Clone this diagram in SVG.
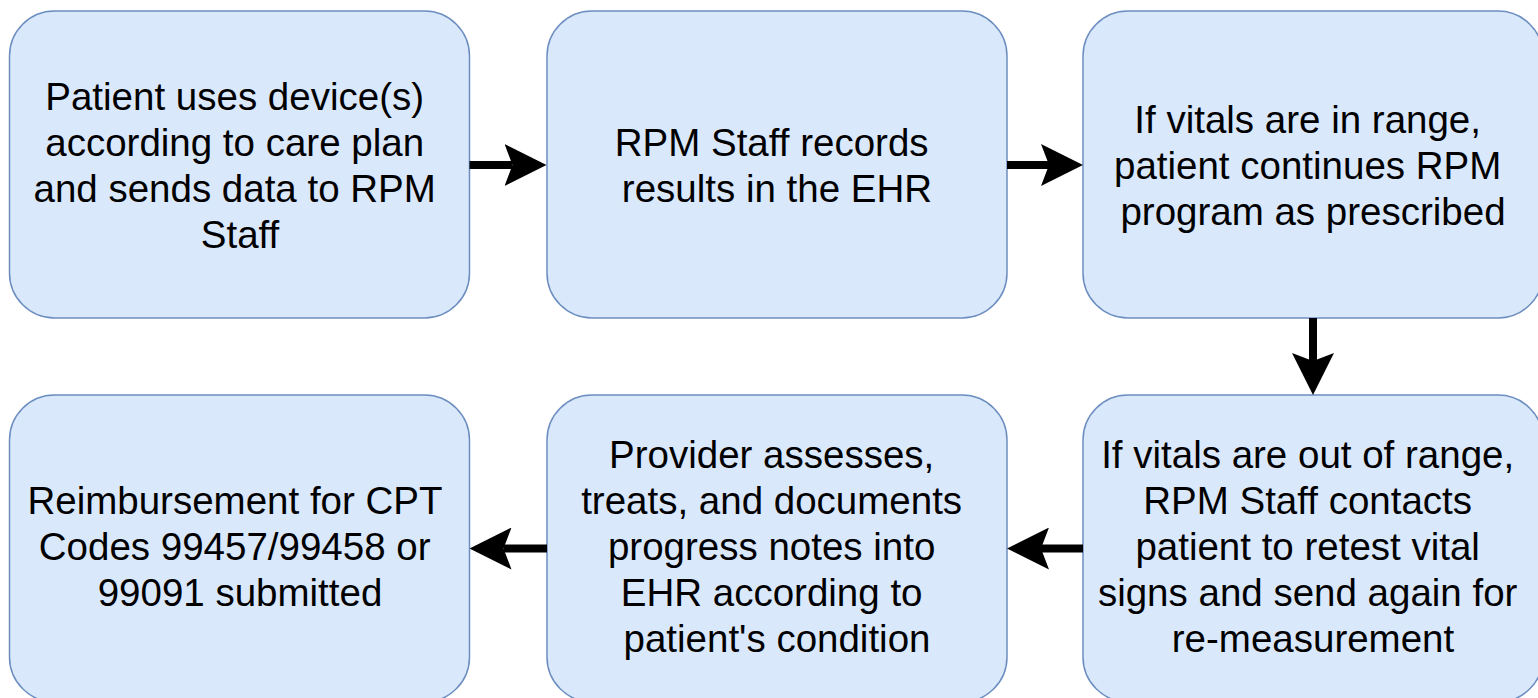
<svg xmlns="http://www.w3.org/2000/svg" width="1538" height="698" viewBox="0 0 1538 698">
  <style>
    .box { fill: #dae8fc; stroke: #6c8ebf; stroke-width: 1.5; }
    .lbl { font-family: "Liberation Sans", Arial, Helvetica, sans-serif; font-size: 38.5px; fill: #000000; text-anchor: middle; }
    .edge { stroke: #000000; stroke-width: 8; fill: none; marker-end: url(#arrow); }
  </style>
  <defs>
    <marker id="arrow" markerUnits="userSpaceOnUse" markerWidth="42" markerHeight="42" refX="8" refY="21" orient="auto" viewBox="0 0 42 42">
      <path d="M0,0 L42,21 L0,42 L8,21 Z" fill="#000000"/>
    </marker>
  </defs>
  <rect width="1538" height="698" fill="#ffffff"/>

  <g id="node-patient-uses">
    <rect class="box" x="9.5" y="11" width="460" height="307" rx="45" ry="45"/>
    <text class="lbl">
      <tspan x="240" y="110">Patient uses device(s)</tspan>
      <tspan x="240" y="156">according to care plan</tspan>
      <tspan x="240" y="202">and sends data to RPM</tspan>
      <tspan x="240" y="248">Staff</tspan>
    </text>
  </g>

  <g id="node-staff-records">
    <rect class="box" x="547" y="11" width="460" height="307" rx="45" ry="45"/>
    <text class="lbl">
      <tspan x="777" y="156">RPM Staff records</tspan>
      <tspan x="777" y="202">results in the EHR</tspan>
    </text>
  </g>

  <g id="node-in-range">
    <rect class="box" x="1083" y="11" width="460" height="307" rx="45" ry="45"/>
    <text class="lbl">
      <tspan x="1313" y="133">If vitals are in range,</tspan>
      <tspan x="1313" y="179">patient continues RPM</tspan>
      <tspan x="1313" y="225">program as prescribed</tspan>
    </text>
  </g>

  <g id="node-out-of-range">
    <rect class="box" x="1083" y="395" width="460" height="307" rx="45" ry="45"/>
    <text class="lbl">
      <tspan x="1313" y="468">If vitals are out of range,</tspan>
      <tspan x="1313" y="514">RPM Staff contacts</tspan>
      <tspan x="1313" y="560">patient to retest vital</tspan>
      <tspan x="1313" y="606">signs and send again for</tspan>
      <tspan x="1313" y="652">re-measurement</tspan>
    </text>
  </g>

  <g id="node-provider">
    <rect class="box" x="547" y="395" width="460" height="307" rx="45" ry="45"/>
    <text class="lbl">
      <tspan x="777" y="468">Provider assesses,</tspan>
      <tspan x="777" y="514">treats, and documents</tspan>
      <tspan x="777" y="560">progress notes into</tspan>
      <tspan x="777" y="606">EHR according to</tspan>
      <tspan x="777" y="652">patient's condition</tspan>
    </text>
  </g>

  <g id="node-reimbursement">
    <rect class="box" x="9.5" y="395" width="460" height="307" rx="45" ry="45"/>
    <text class="lbl">
      <tspan x="240" y="514">Reimbursement for CPT</tspan>
      <tspan x="240" y="560">Codes 99457/99458 or</tspan>
      <tspan x="240" y="606">99091 submitted</tspan>
    </text>
  </g>

  <g id="connectors">
    <path class="edge" d="M469.5,165 L512.5,165"/>
    <path class="edge" d="M1007,165 L1049,165"/>
    <path class="edge" d="M1313,318 L1313,361"/>
    <path class="edge" d="M1083,548.5 L1041,548.5"/>
    <path class="edge" d="M547,548.5 L503.5,548.5"/>
  </g>
</svg>
